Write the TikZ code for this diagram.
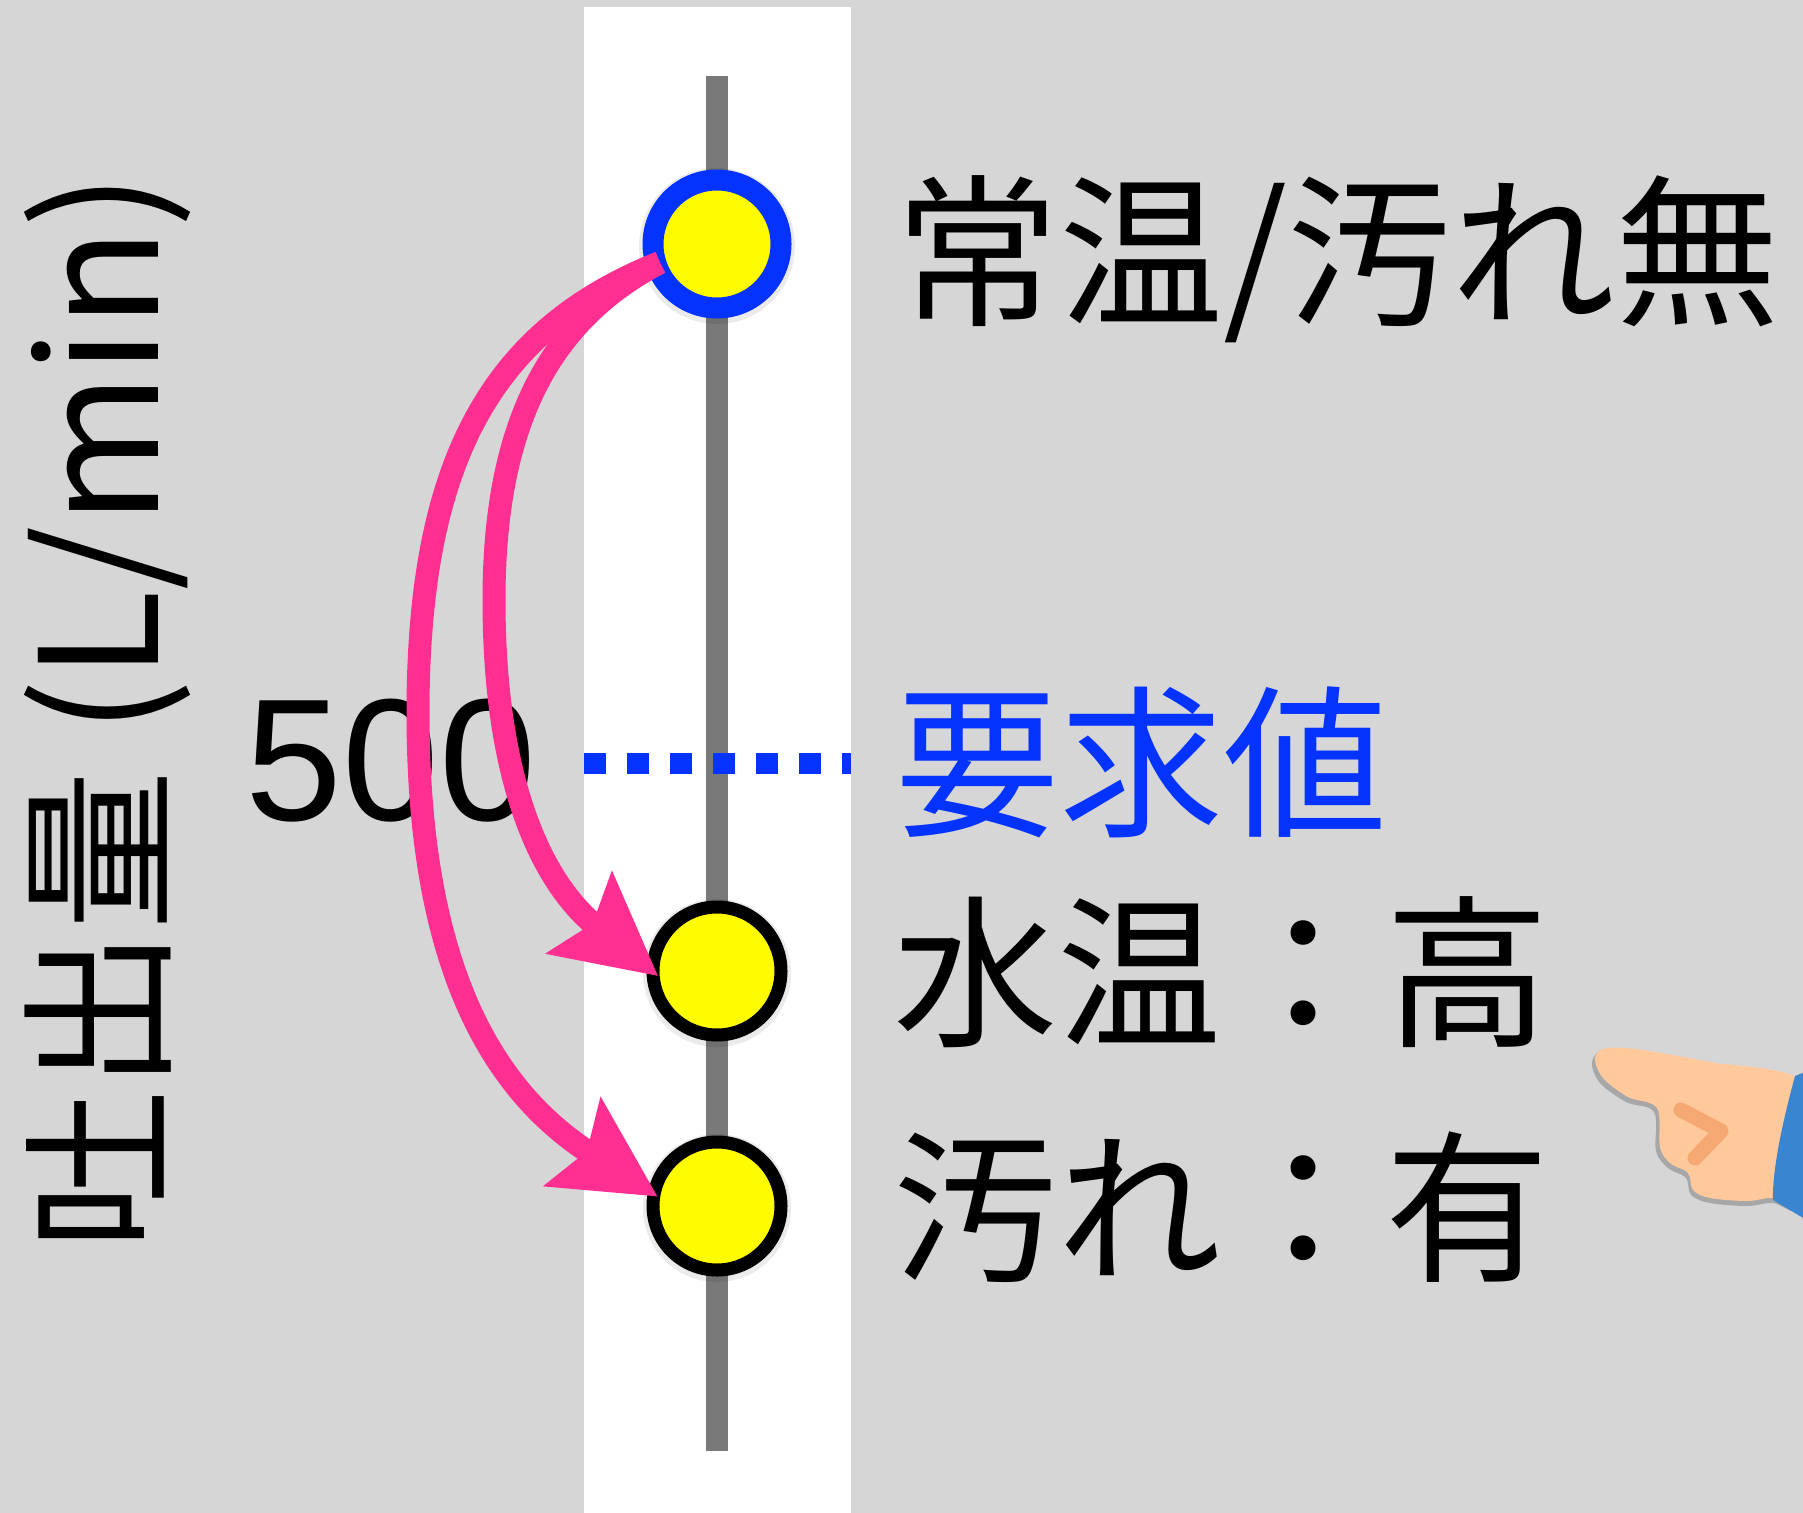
\documentclass[tikz,border=0pt]{standalone}
\usepackage{fontspec}
\newfontfamily\jpfont{Noto Sans CJK JP}
\newfontfamily\numfont{Liberation Sans}
\usetikzlibrary{arrows.meta}

\definecolor{bggray}{HTML}{D6D6D6}
\definecolor{bargray}{HTML}{797979}
\definecolor{lemon}{HTML}{FFFB00}
\definecolor{berry}{HTML}{0433FF}
\definecolor{strawberry}{HTML}{FF2F92}
\definecolor{skin}{HTML}{FFC99C}
\definecolor{skinmark}{HTML}{F5A872}
\definecolor{sleeve}{HTML}{3A85CF}

\tikzset{
  markerdot/.style={circle, fill=lemon, minimum size=64pt, inner sep=0pt},
  startdot/.style={markerdot, draw=berry, line width=10.5pt},
  enddot/.style={markerdot, draw=black, line width=6.5pt},
  halo/.style={fill=black, opacity=0.08},
  flowarrow/.style={draw=strawberry, line width=11.5pt,
    -{Stealth[length=50pt, width=51pt, inset=8pt]}},
  lbl/.style={anchor=west, inner sep=0pt,
    font=\jpfont\fontsize{82pt}{96pt}\selectfont,
    text height=72pt, text depth=10pt},
}

\begin{document}
\begin{tikzpicture}[x=0.5pt, y=-0.5pt]
  % canvas
  \fill[bggray] (0,0) rectangle (1803,1513);
  \useasboundingbox (0,0) rectangle (1803,1513);
  \clip (0,0) rectangle (1803,1513);

  % white band with the scale bar
  \fill[white] (584,7) rectangle (851,1513);
  \fill[bargray] (706,76) rectangle (728,1451);

  % required-value line
  \coordinate (refL) at (584,763);
  \coordinate (refR) at (851,763);
  \draw[berry, line width=10.5pt, dash pattern=on 11pt off 10.5pt] (refL) -- (refR);

  % soft halos under the dots
  \fill[halo] (717,246) circle [radius=39pt];
  \fill[halo] (717,973) circle [radius=37pt];
  \fill[halo] (717,1208) circle [radius=37pt];

  % operating points
  \node[startdot] (src) at (717,244) {};
  \node[enddot] (hot) at (717,971) {};
  \node[enddot] (dirty) at (717,1206) {};

  % value on the axis
  \node[font=\numfont\fontsize{87pt}{100pt}\selectfont, anchor=base, inner sep=0pt]
    (val) at (391,820) {500};

  % shifts of the operating point
  \draw[flowarrow] ([shift={(198:30pt)}]src.center)
    .. controls (490,330) and (418,463) .. (418,713)
    .. controls (418,963) and (490,1089) .. ([shift={(171:30pt)}]dirty.center);
  \draw[flowarrow] ([shift={(198:30pt)}]src.center)
    .. controls (552,319) and (494,420) .. (494,600)
    .. controls (494,780) and (541,882) .. ([shift={(185:29.5pt)}]hot.center);

  % axis title
  \node[rotate=90, inner sep=0pt, text height=70pt, text depth=10pt] (ylbl) at (98,712)
    {\jpfont\fontsize{80pt}{96pt}\selectfont 吐出量 {\fontsize{82pt}{96pt}\selectfont(L/min)}};

  % labels
  \node[lbl] (tnormal) at (895,252) {常温/汚れ無};
  \node[lbl, text=berry] (treq) at (895,762) {要求値};
  \node[lbl] (thot) at (893,972) {水温：高};
  \node[lbl] (tdirty) at (893,1207) {汚れ：有};

  % pointing hand
  \fill[black, opacity=0.22] plot[smooth cycle, tension=0.55] coordinates {
    (1592,1062) (1605,1049) (1643,1051) (1710,1063) (1800,1081) (1812,1150)
    (1800,1209) (1773,1203) (1747,1206) (1710,1203) (1691,1195) (1686,1178)
    (1668,1168) (1656,1151) (1654,1112) (1626,1102) (1600,1083)};
  \fill[skin] plot[smooth cycle, tension=0.55] coordinates {
    (1595,1058) (1607,1048) (1643,1050) (1710,1062) (1800,1080) (1810,1150)
    (1800,1205) (1773,1198) (1747,1201) (1710,1198) (1693,1190) (1688,1173)
    (1670,1163) (1660,1147) (1657,1108) (1628,1097) (1603,1078)};
  \draw[skinmark, line width=7.5pt, line cap=round, line join=round]
    (1681,1110) -- (1721,1131) -- (1695,1158);
  \fill[sleeve] (1795,1076) .. controls (1783,1120) and (1772,1170) .. (1773,1200)
    -- (1810,1222) -- (1810,1070) -- cycle;
\end{tikzpicture}
\end{document}
